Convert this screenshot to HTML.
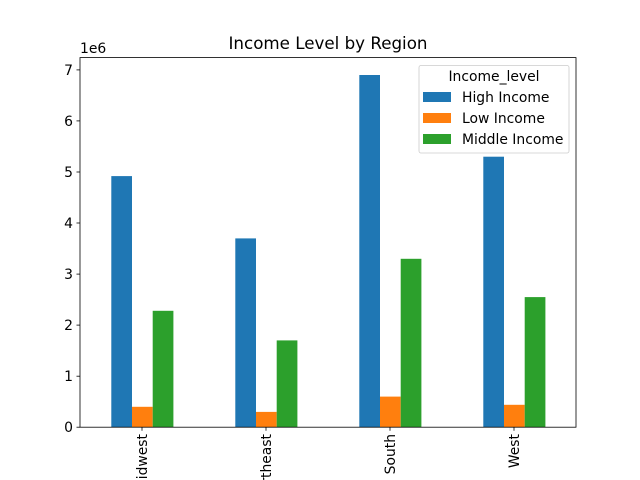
<!DOCTYPE html><html><head><style>body{margin:0;background:#fff}svg{display:block}text{font-family:"DejaVu Sans","Liberation Sans",sans-serif;fill:#000}</style></head><body>
<svg width="640" height="480" xmlns="http://www.w3.org/2000/svg">
<rect width="640" height="480" fill="#fff"/>
<g>
<rect x="111.3" y="176.1" width="20.7" height="251.1" fill="#1f77b4"/>
<rect x="235.3" y="238.4" width="20.7" height="188.8" fill="#1f77b4"/>
<rect x="359.3" y="75.0" width="20.7" height="352.2" fill="#1f77b4"/>
<rect x="483.3" y="156.7" width="20.7" height="270.5" fill="#1f77b4"/>
<rect x="132" y="406.8" width="20.7" height="20.4" fill="#ff7f0e"/>
<rect x="256" y="411.9" width="20.7" height="15.3" fill="#ff7f0e"/>
<rect x="380" y="396.6" width="20.7" height="30.6" fill="#ff7f0e"/>
<rect x="504" y="404.8" width="20.7" height="22.4" fill="#ff7f0e"/>
<rect x="152.7" y="310.8" width="20.7" height="116.4" fill="#2ca02c"/>
<rect x="276.7" y="340.4" width="20.7" height="86.8" fill="#2ca02c"/>
<rect x="400.7" y="258.8" width="20.7" height="168.4" fill="#2ca02c"/>
<rect x="524.7" y="297.1" width="20.7" height="130.1" fill="#2ca02c"/>
</g>
<rect x="80" y="57.6" width="496" height="369.6" fill="none" stroke="#000" stroke-width="0.8"/>
<g stroke="#000" stroke-width="0.8">
<line x1="80" x2="76.5" y1="427.2" y2="427.2"/><line x1="80" x2="76.5" y1="376.2" y2="376.2"/><line x1="80" x2="76.5" y1="325.1" y2="325.1"/><line x1="80" x2="76.5" y1="274.1" y2="274.1"/><line x1="80" x2="76.5" y1="223.0" y2="223.0"/><line x1="80" x2="76.5" y1="172.0" y2="172.0"/><line x1="80" x2="76.5" y1="120.9" y2="120.9"/><line x1="80" x2="76.5" y1="69.9" y2="69.9"/>
<line x1="142" x2="142" y1="427.2" y2="430.7"/><line x1="266" x2="266" y1="427.2" y2="430.7"/><line x1="390" x2="390" y1="427.2" y2="430.7"/><line x1="514" x2="514" y1="427.2" y2="430.7"/>
</g>
<g font-size="13.9" text-anchor="end">
<text x="73" y="432">0</text><text x="73" y="381">1</text><text x="73" y="330">2</text><text x="73" y="279">3</text><text x="73" y="228">4</text><text x="73" y="177">5</text><text x="73" y="126">6</text><text x="73" y="75">7</text>
</g>
<text x="80" y="53" font-size="13.9">1e6</text>
<g font-size="13.9" text-anchor="end">
<text transform="translate(146.8,434) rotate(-90)">Midwest</text>
<text transform="translate(270.8,434) rotate(-90)">Northeast</text>
<text transform="translate(394.8,434) rotate(-90)">South</text>
<text transform="translate(518.8,434) rotate(-90)">West</text>
</g>
<text x="328" y="49" font-size="16.7" text-anchor="middle">Income Level by Region</text>
<rect x="419" y="65.5" width="150" height="87.5" rx="2" fill="#fff" fill-opacity="0.8" stroke="#ccc" stroke-width="0.8"/>
<text x="494" y="81" font-size="13.9" text-anchor="middle">Income_level</text>
<rect x="423" y="92" width="28" height="10" fill="#1f77b4"/>
<rect x="423" y="113" width="28" height="10" fill="#ff7f0e"/>
<rect x="423" y="134" width="28" height="10" fill="#2ca02c"/>
<g font-size="13.9"><text x="462" y="102">High Income</text><text x="462" y="123">Low Income</text><text x="462" y="144">Middle Income</text></g>
</svg></body></html>
